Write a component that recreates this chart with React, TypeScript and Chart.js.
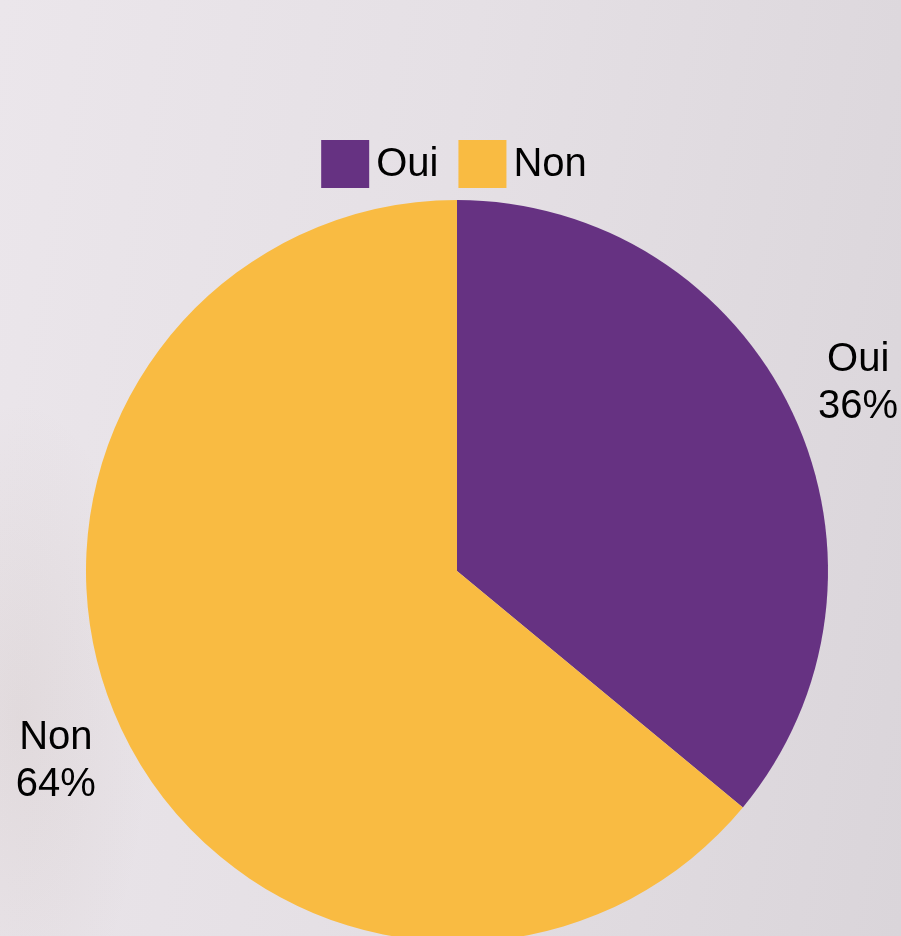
import React, { useEffect, useRef } from "react";
import { Chart, registerables } from "chart.js";

Chart.register(...registerables);

const categories = ["Oui", "Non"];
const values = [36, 64];
const colors = ["#663282", "#F9BB42"];

const FONT = "'Liberation Sans', Arial, sans-serif";

const outsideLabels = {
  id: "outsideLabels",
  afterDatasetsDraw(chart: any) {
    const meta = chart.getDatasetMeta(0);
    const ctx = chart.ctx;
    const data = chart.data.datasets[0].data as number[];
    const total = data.reduce((a, b) => a + b, 0);
    ctx.save();
    ctx.font = `40px ${FONT}`;
    ctx.fillStyle = "#000000";
    ctx.textAlign = "center";
    ctx.textBaseline = "middle";
    meta.data.forEach((arc: any, i: number) => {
      const p = arc.getProps(["x", "y", "startAngle", "endAngle", "outerRadius"], true);
      const mid = (p.startAngle + p.endAngle) / 2;
      const r = p.outerRadius * 1.195;
      const lx = p.x + Math.cos(mid) * r;
      const ly = p.y + Math.sin(mid) * r;
      const pct = Math.round((data[i] / total) * 100) + "%";
      ctx.fillText(String(chart.data.labels[i]), lx, ly - 22);
      ctx.fillText(pct, lx, ly + 25);
    });
    ctx.restore();
  },
};

const customLegend = {
  id: "customLegend",
  afterDraw(chart: any) {
    const ctx = chart.ctx;
    const labels = chart.data.labels as string[];
    const bg = chart.data.datasets[0].backgroundColor as string[];
    const box = 48;
    const gapText = 7;
    const gapItem = 20;
    ctx.save();
    ctx.font = `40px ${FONT}`;
    const widths = labels.map((l) => box + gapText + ctx.measureText(l).width);
    const totalW = widths.reduce((a, b) => a + b, 0) + gapItem * (labels.length - 1);
    const area = chart.chartArea;
    let x = (area.left + area.right) / 2 - totalW / 2 - 3;
    const top = 140;
    labels.forEach((l, i) => {
      ctx.fillStyle = bg[i];
      ctx.fillRect(x, top, box, box);
      ctx.fillStyle = "#000000";
      ctx.textAlign = "left";
      ctx.textBaseline = "middle";
      ctx.fillText(l, x + box + gapText, top + box / 2 + 1);
      x += widths[i] + gapItem;
    });
    ctx.restore();
  },
};

export default function App() {
  const ref = useRef<HTMLCanvasElement | null>(null);
  useEffect(() => {
    if (!ref.current) return;
    const chart = new Chart(ref.current, {
      type: "pie",
      data: {
        labels: categories,
        datasets: [
          {
            data: values,
            backgroundColor: colors,
            borderWidth: 0,
          },
        ],
      },
      options: {
        responsive: false,
        animation: false,
        layout: { padding: { top: 198, left: 86, right: 73, bottom: 16 } },
        plugins: {
          legend: { display: false },
          tooltip: { enabled: false },
        },
      },
      plugins: [outsideLabels, customLegend],
    });
    return () => chart.destroy();
  }, []);
  return (
    <div
      style={{
        position: "fixed",
        inset: 0,
        overflow: "hidden",
        background:
          "radial-gradient(ellipse 130px 320px at 20px 720px, rgba(150,125,105,0.10), rgba(150,125,105,0) 100%), linear-gradient(100deg, #ebe6eb 0%, #e5e0e5 45%, #dad5da 100%)",
      }}
    >
      <canvas
        ref={ref}
        width={901}
        height={960}
        style={{ position: "absolute", left: 0, top: 0, width: 901, height: 960 }}
      />
    </div>
  );
}
